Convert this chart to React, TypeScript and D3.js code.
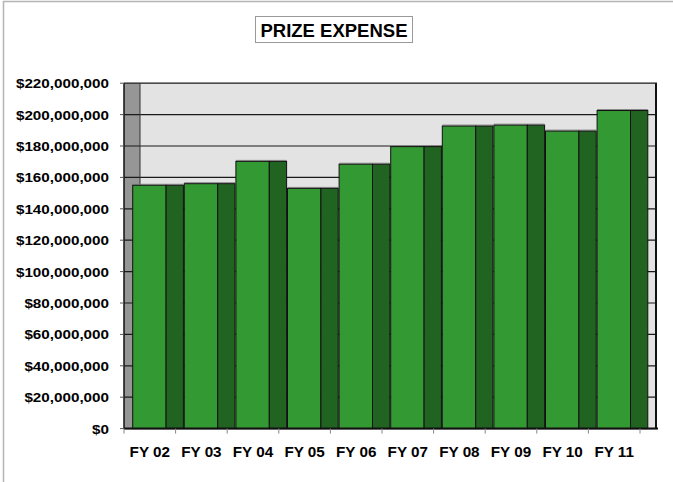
import React from "react";
import * as d3 from "d3";

const categories = ["FY 02", "FY 03", "FY 04", "FY 05", "FY 06", "FY 07", "FY 08", "FY 09", "FY 10", "FY 11"];
const prizeExpense = [155.0e6, 156.0e6, 170.2e6, 153.0e6, 168.4e6, 179.6e6, 192.7e6, 193.3e6, 189.5e6, 202.6e6];
const yTickValues = [0, 20e6, 40e6, 60e6, 80e6, 100e6, 120e6, 140e6, 160e6, 180e6, 200e6, 220e6];
const chartTitle = "PRIZE EXPENSE";

const width = 673;
const height = 482;
const font = "'Liberation Sans', Arial, Helvetica, sans-serif";

export default function App() {
  const left = 124;
  const bandW = 51.6;
  const depth = 16; // 3d wall offset
  const bottom = 428.6;
  const top = 83.2;

  const x = d3.scaleBand<string>()
    .domain(categories)
    .range([left, left + bandW * categories.length])
    .paddingInner(0)
    .paddingOuter(0);

  const y = d3.scaleLinear().domain([0, 220e6]).range([bottom, top]);

  const backRight = left + bandW * categories.length + depth;
  const fmt = (v: number) => "$" + d3.format(",")(v);

  const frontW = 33.4;
  const sideW = 17.3;
  const barOffset = 8.7;

  return (
    <svg
      width={width}
      height={height}
      style={{ position: "absolute", left: 0, top: 0, background: "#fff" }}
      fontFamily={font}
    >
      {/* outer frame (top and left only visible) */}
      <line x1={3} y1={1.5} x2={width} y2={1.5} stroke="#b4b4b4" strokeWidth={1.5} />
      <line x1={3.5} y1={1} x2={3.5} y2={height} stroke="#b4b4b4" strokeWidth={1.5} />

      {/* title */}
      <rect x={255.5} y={16.5} width={157} height={26} fill="#fff" stroke="#999" strokeWidth={1} />
      <text x={334} y={36.5} textAnchor="middle" fontSize={18.5} fontWeight="bold" fill="#000">
        {chartTitle}
      </text>

      {/* back wall */}
      <rect x={left + depth} y={top} width={backRight - left - depth} height={bottom - top} fill="#e3e3e3" />
      {/* side wall */}
      <rect x={left} y={top} width={depth} height={bottom - top} fill="#969696" />

      {/* gridlines */}
      {yTickValues.map((t) => (
        <line key={"g" + t} x1={left} x2={backRight + 1} y1={y(t)} y2={y(t)} stroke="#1a1a1a" strokeWidth={1.2} />
      ))}
      <line x1={left + depth} x2={left + depth} y1={top} y2={bottom} stroke="#333" strokeWidth={1} />
      <line x1={backRight} x2={backRight} y1={top} y2={bottom} stroke="#111" strokeWidth={2} />

      {/* bars */}
      {categories.map((c, i) => {
        const x0 = (x(c) as number) + barOffset;
        const yt = y(prizeExpense[i]);
        return (
          <g key={c}>
            <line x1={x0} x2={x0 + frontW + sideW} y1={yt - 1} y2={yt - 1} stroke="#888" strokeWidth={1} />
            <rect x={x0} y={yt} width={frontW} height={bottom - yt} fill="#339933" stroke="#111" strokeWidth={1} />
            <rect x={x0 + frontW} y={yt} width={sideW} height={bottom - yt} fill="#216321" stroke="#111" strokeWidth={1} />
          </g>
        );
      })}

      {/* y axis */}
      <line x1={left} x2={left} y1={top} y2={bottom} stroke="#111" strokeWidth={1.5} />
      {yTickValues.map((t) => (
        <g key={"t" + t}>
          <line x1={left - 4} x2={left} y1={y(t)} y2={y(t)} stroke="#555" strokeWidth={1} />
          <text
            transform={`translate(109, ${y(t) + 5}) scale(1.12, 1)`}
            textAnchor="end"
            fontSize={13.6}
            fontWeight="bold"
            fill="#000"
          >
            {fmt(t)}
          </text>
        </g>
      ))}

      {/* x axis */}
      <line x1={left} x2={backRight + 2} y1={bottom} y2={bottom} stroke="#111" strokeWidth={2} />
      {d3.range(categories.length + 1).map((i) => (
        <line key={"xt" + i} x1={left + i * bandW} x2={left + i * bandW} y1={bottom} y2={bottom + 5} stroke="#888" strokeWidth={1} />
      ))}
      {categories.map((c) => (
        <text
          key={"l" + c}
          transform={`translate(${(x(c) as number) + x.bandwidth() / 2}, 456.5) scale(1.09, 1)`}
          textAnchor="middle"
          fontSize={14}
          fontWeight="bold"
          fill="#000"
        >
          {c}
        </text>
      ))}
    </svg>
  );
}
